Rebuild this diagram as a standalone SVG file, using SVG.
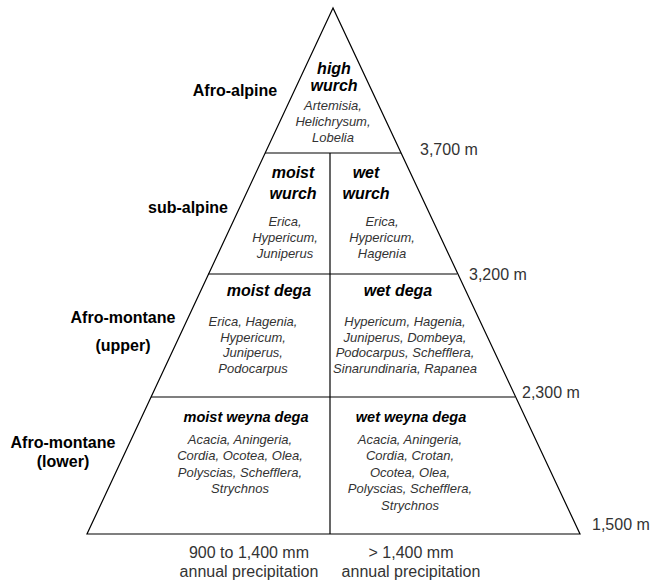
<svg xmlns="http://www.w3.org/2000/svg" width="650" height="581" viewBox="0 0 650 581">
<style>
text{font-family:"Liberation Sans",Arial,sans-serif;}
.zone{font-size:16px;font-weight:bold;fill:#000;text-anchor:middle;}
.name{font-size:16px;font-weight:bold;font-style:italic;fill:#000;text-anchor:middle;}
.name2{font-size:14.5px;font-weight:bold;font-style:italic;fill:#000;text-anchor:middle;}
.sp{font-size:13px;font-style:italic;fill:#333;text-anchor:middle;}
.alt{font-size:16px;fill:#333;}
.prec{font-size:16px;fill:#333;text-anchor:middle;}
.ln{stroke:#000;stroke-width:1.2;fill:none;}
</style>
<rect width="650" height="581" fill="#fff"/>
<g id="connectors">
<polygon class="ln" points="333,8 87,534 580,534"/>
<line class="ln" x1="265" y1="153" x2="401" y2="153"/>
<line class="ln" x1="208" y1="274" x2="457" y2="274"/>
<line class="ln" x1="151" y1="397" x2="515" y2="397"/>
<line class="ln" x1="330" y1="153" x2="330" y2="534"/>
</g>
<g id="zone-labels">
<text class="zone" x="235" y="96">Afro-alpine</text>
<text class="zone" x="188" y="213">sub-alpine</text>
<text class="zone" x="123" y="323">Afro-montane</text>
<text class="zone" x="123" y="351">(upper)</text>
<text class="zone" x="63" y="448">Afro-montane</text>
<text class="zone" x="63" y="467">(lower)</text>
</g>
<g id="altitudes">
<text class="alt" x="420" y="155">3,700 m</text>
<text class="alt" x="469" y="280">3,200 m</text>
<text class="alt" x="522" y="398">2,300 m</text>
<text class="alt" x="592" y="530">1,500 m</text>
</g>
<g id="high-wurch">
<text class="name" x="334" y="74">high</text>
<text class="name" x="334" y="91">wurch</text>
<text class="sp" x="333" y="110">Artemisia,</text>
<text class="sp" x="333" y="126">Helichrysum,</text>
<text class="sp" x="333" y="142">Lobelia</text>
</g>
<g id="moist-wurch">
<text class="name" x="293" y="178">moist</text>
<text class="name" x="293" y="199">wurch</text>
<text class="sp" x="285" y="226">Erica,</text>
<text class="sp" x="285" y="242">Hypericum,</text>
<text class="sp" x="285" y="258">Juniperus</text>
</g>
<g id="wet-wurch">
<text class="name" x="366" y="178">wet</text>
<text class="name" x="366" y="199">wurch</text>
<text class="sp" x="382" y="226">Erica,</text>
<text class="sp" x="382" y="242">Hypericum,</text>
<text class="sp" x="382" y="258">Hagenia</text>
</g>
<g id="moist-dega">
<text class="name" x="269" y="296">moist dega</text>
<text class="sp" x="253" y="326">Erica, Hagenia,</text>
<text class="sp" x="253" y="342">Hypericum,</text>
<text class="sp" x="253" y="357">Juniperus,</text>
<text class="sp" x="253" y="373">Podocarpus</text>
</g>
<g id="wet-dega">
<text class="name" x="398" y="296">wet dega</text>
<text class="sp" x="405" y="326">Hypericum, Hagenia,</text>
<text class="sp" x="405" y="342">Juniperus, Dombeya,</text>
<text class="sp" x="405" y="357">Podocarpus, Schefflera,</text>
<text class="sp" x="405" y="373">Sinarundinaria, Rapanea</text>
</g>
<g id="moist-weyna-dega">
<text class="name2" x="246" y="422">moist weyna dega</text>
<text class="sp" x="240" y="444">Acacia, Aningeria,</text>
<text class="sp" x="240" y="460">Cordia, Ocotea, Olea,</text>
<text class="sp" x="240" y="477">Polyscias, Schefflera,</text>
<text class="sp" x="240" y="493">Strychnos</text>
</g>
<g id="wet-weyna-dega">
<text class="name2" x="411" y="422">wet weyna dega</text>
<text class="sp" x="410" y="444">Acacia, Aningeria,</text>
<text class="sp" x="410" y="460">Cordia, Crotan,</text>
<text class="sp" x="410" y="477">Ocotea, Olea,</text>
<text class="sp" x="410" y="493">Polyscias, Schefflera,</text>
<text class="sp" x="410" y="510">Strychnos</text>
</g>
<g id="precipitation">
<text class="prec" x="249" y="558">900 to 1,400 mm</text>
<text class="prec" x="249" y="577">annual precipitation</text>
<text class="prec" x="411" y="558">&gt; 1,400 mm</text>
<text class="prec" x="411" y="577">annual precipitation</text>
</g>
</svg>
